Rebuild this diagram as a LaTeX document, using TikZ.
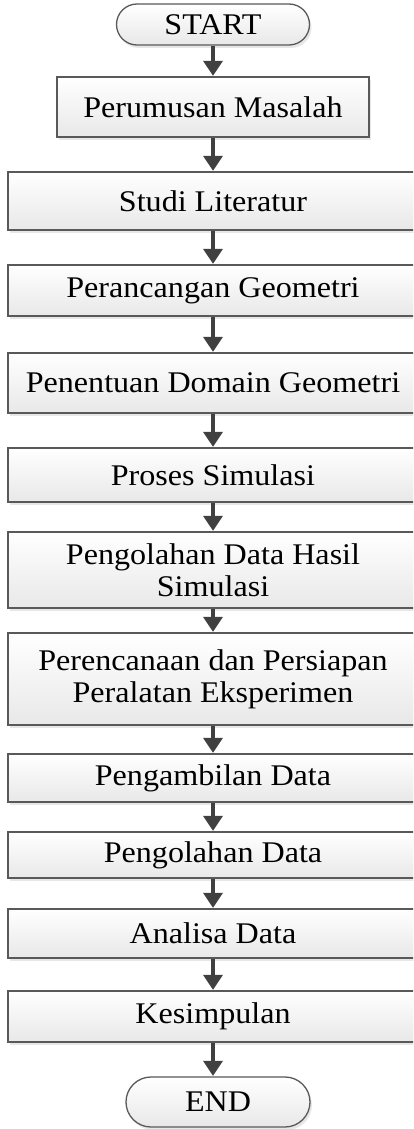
\documentclass[tikz,border=0pt]{standalone}
\usepackage{fontspec}
\setmainfont{Liberation Serif}[FakeStretch=1.07]
\usetikzlibrary{shapes.misc,shadows,arrows.meta}
\begin{document}
\begin{tikzpicture}[x=1pt,y=-1pt,
  base/.style={draw=black!65, line width=1.3pt, top color=white, bottom color=black!9,
    drop shadow={shadow xshift=2pt, shadow yshift=-3pt, fill=black!18},
    align=center, inner sep=0pt, text=black,
    font=\fontsize{30}{32}\selectfont},
  stepbox/.style={base, rectangle, minimum width=410pt},
  term/.style={base, rounded rectangle},
  flow/.style={draw=black!75, line width=3.2pt, -{Triangle[width=19pt,length=15pt]}, shorten >=0.5pt}
]
\useasboundingbox (0,0) rectangle (413,1129);
\clip (0,0) rectangle (413,1129);
\fill[white] (0,0) rectangle (413,1129);

\node[term, minimum width=193pt, minimum height=41pt] (start) at (213,24.5) {START};
\node[stepbox, minimum width=312pt, minimum height=60pt] (s1) at (213,107) {Perumusan Masalah};
\node[stepbox, minimum height=58pt] (s2) at (213,201) {Studi Literatur};
\node[stepbox, minimum height=51pt] (s3) at (213,290.5) {Perancangan Geometri};
\node[stepbox, minimum height=60pt] (s4) at (213,383) {Penentuan Domain Geometri};
\node[stepbox, minimum height=54pt] (s5) at (213,475) {Proses Simulasi};
\node[stepbox, minimum height=76pt] (s6) at (213,570) {Pengolahan Data Hasil\\Simulasi};
\node[stepbox, minimum height=92pt] (s7) at (213,679) {Perencanaan dan Persiapan\\Peralatan Eksperimen};
\node[stepbox, minimum height=48pt] (s8) at (213,778) {Pengambilan Data};
\node[stepbox, minimum height=46pt] (s9) at (213,855) {Pengolahan Data};
\node[stepbox, minimum height=49pt] (s10) at (213,933.5) {Analisa Data};
\node[stepbox, minimum height=51pt] (s11) at (213,1016.5) {Kesimpulan};
\node[term, minimum width=184pt, minimum height=50pt] (end) at (218,1102) {END};

\draw[flow] (start.south -| s1.north) -- (s1.north);
\draw[flow] (s1) -- (s2);
\draw[flow] (s2) -- (s3);
\draw[flow] (s3) -- (s4);
\draw[flow] (s4) -- (s5);
\draw[flow] (s5) -- (s6);
\draw[flow] (s6) -- (s7);
\draw[flow] (s7) -- (s8);
\draw[flow] (s8) -- (s9);
\draw[flow] (s9) -- (s10);
\draw[flow] (s10) -- (s11);
\draw[flow] (s11.south) -- (s11.south |- end.north);
\end{tikzpicture}
\end{document}
